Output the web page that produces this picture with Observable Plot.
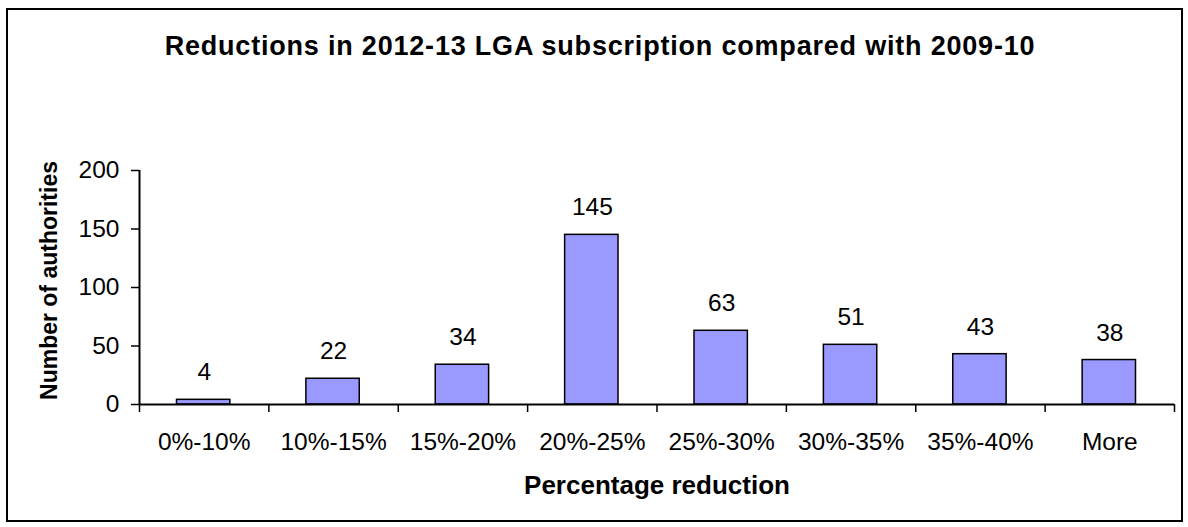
<!DOCTYPE html>
<html>
<head>
<meta charset="utf-8">
<script src="https://cdn.jsdelivr.net/npm/d3@7"></script>
<script src="https://cdn.jsdelivr.net/npm/@observablehq/plot@0.6"></script>
<style>
  html, body { margin: 0; padding: 0; background: white; }
  #wrap { position: relative; width: 1188px; height: 527px; overflow: hidden; background: white; font-family: "Liberation Sans", Arial, sans-serif; color: black; }
  #wrap svg { position: absolute; left: 0; top: 0; }
  .lbl { position: absolute; line-height: 1; white-space: nowrap; font-weight: bold; }
  #border { position: absolute; left: 6px; top: 8px; width: 1177px; height: 514px; border: 2px solid black; box-sizing: border-box; pointer-events: none; }
</style>
</head>
<body>
<div id="wrap">
  <div id="border"></div>
</div>
<script>
const title = "Reductions in 2012-13 LGA subscription compared with 2009-10";
const xTitle = "Percentage reduction";
const yTitle = "Number of authorities";
const categories = ["0%-10%", "10%-15%", "15%-20%", "20%-25%", "25%-30%", "30%-35%", "35%-40%", "More"];
const counts = [4, 22, 34, 145, 63, 51, 43, 38];
const yTicks = [0, 50, 100, 150, 200];

const data = categories.map((c, i) => ({category: c, index: i, count: counts[i]}));
const boundaries = d3.range(0, categories.length + 1);
const centers = categories.map((c, i) => i + 0.5);

const chart = Plot.plot({
  width: 1188,
  height: 527,
  marginLeft: 139,
  marginRight: 14,
  marginTop: 170,
  marginBottom: 123,
  style: {fontFamily: "Liberation Sans, Arial, sans-serif", color: "black", background: "transparent"},
  x: {type: "linear", domain: [0, categories.length]},
  y: {domain: [0, 200]},
  marks: [
    Plot.rectY(data, {x1: "index", x2: d => d.index + 1, y: "count", insetLeft: 37.5, insetRight: 38.5, fill: "#9999ff", stroke: "black", strokeWidth: 1.5}),
    Plot.text(data, {x: d => d.index + 0.5, y: "count", text: d => String(d.count), lineAnchor: "bottom", dy: -19.5, fontSize: 24.5, fill: "black"}),
    Plot.axisY({ticks: yTicks, tickSize: 8, tickFormat: () => "", strokeWidth: 1.5, label: null}),
    Plot.text(yTicks, {x: 0, y: d => d, text: d => String(d), textAnchor: "end", lineAnchor: "middle", dx: -20, fontSize: 24.5, fill: "black"}),
    Plot.axisX({ticks: boundaries, tickSize: 8, tickFormat: () => "", strokeWidth: 1.5, label: null}),
    Plot.axisX({ticks: centers, tickSize: 0, tickPadding: 27.6, fontSize: 24.5, tickFormat: v => categories[Math.round(v - 0.5)], label: null}),
    Plot.ruleX([0], {stroke: "black", strokeWidth: 2}),
    Plot.ruleY([0], {stroke: "black", strokeWidth: 2})
  ]
});

const wrap = document.getElementById("wrap");
wrap.insertBefore(chart, wrap.firstChild);

function addLabel(text, fs, css) {
  const d = document.createElement("div");
  d.className = "lbl";
  d.textContent = text;
  d.style.fontSize = fs + "px";
  Object.assign(d.style, css);
  wrap.appendChild(d);
  return d;
}
// title: baseline ~56, centred at x 600
addLabel(title, 27, {left: "100px", width: "1000px", top: (56 - 0.8465 * 27) + "px", textAlign: "center", letterSpacing: "0.8px"});
// x title: baseline ~494, centred at 657
addLabel(xTitle, 26, {left: "457px", width: "400px", top: (494 - 0.8465 * 26) + "px", textAlign: "center"});
// y title: rotated
addLabel(yTitle, 23, {left: (48.5 - 200) + "px", width: "400px", height: "23px", top: (280 - 11.5) + "px", textAlign: "center", transform: "rotate(-90deg)"});
</script>
</body>
</html>
